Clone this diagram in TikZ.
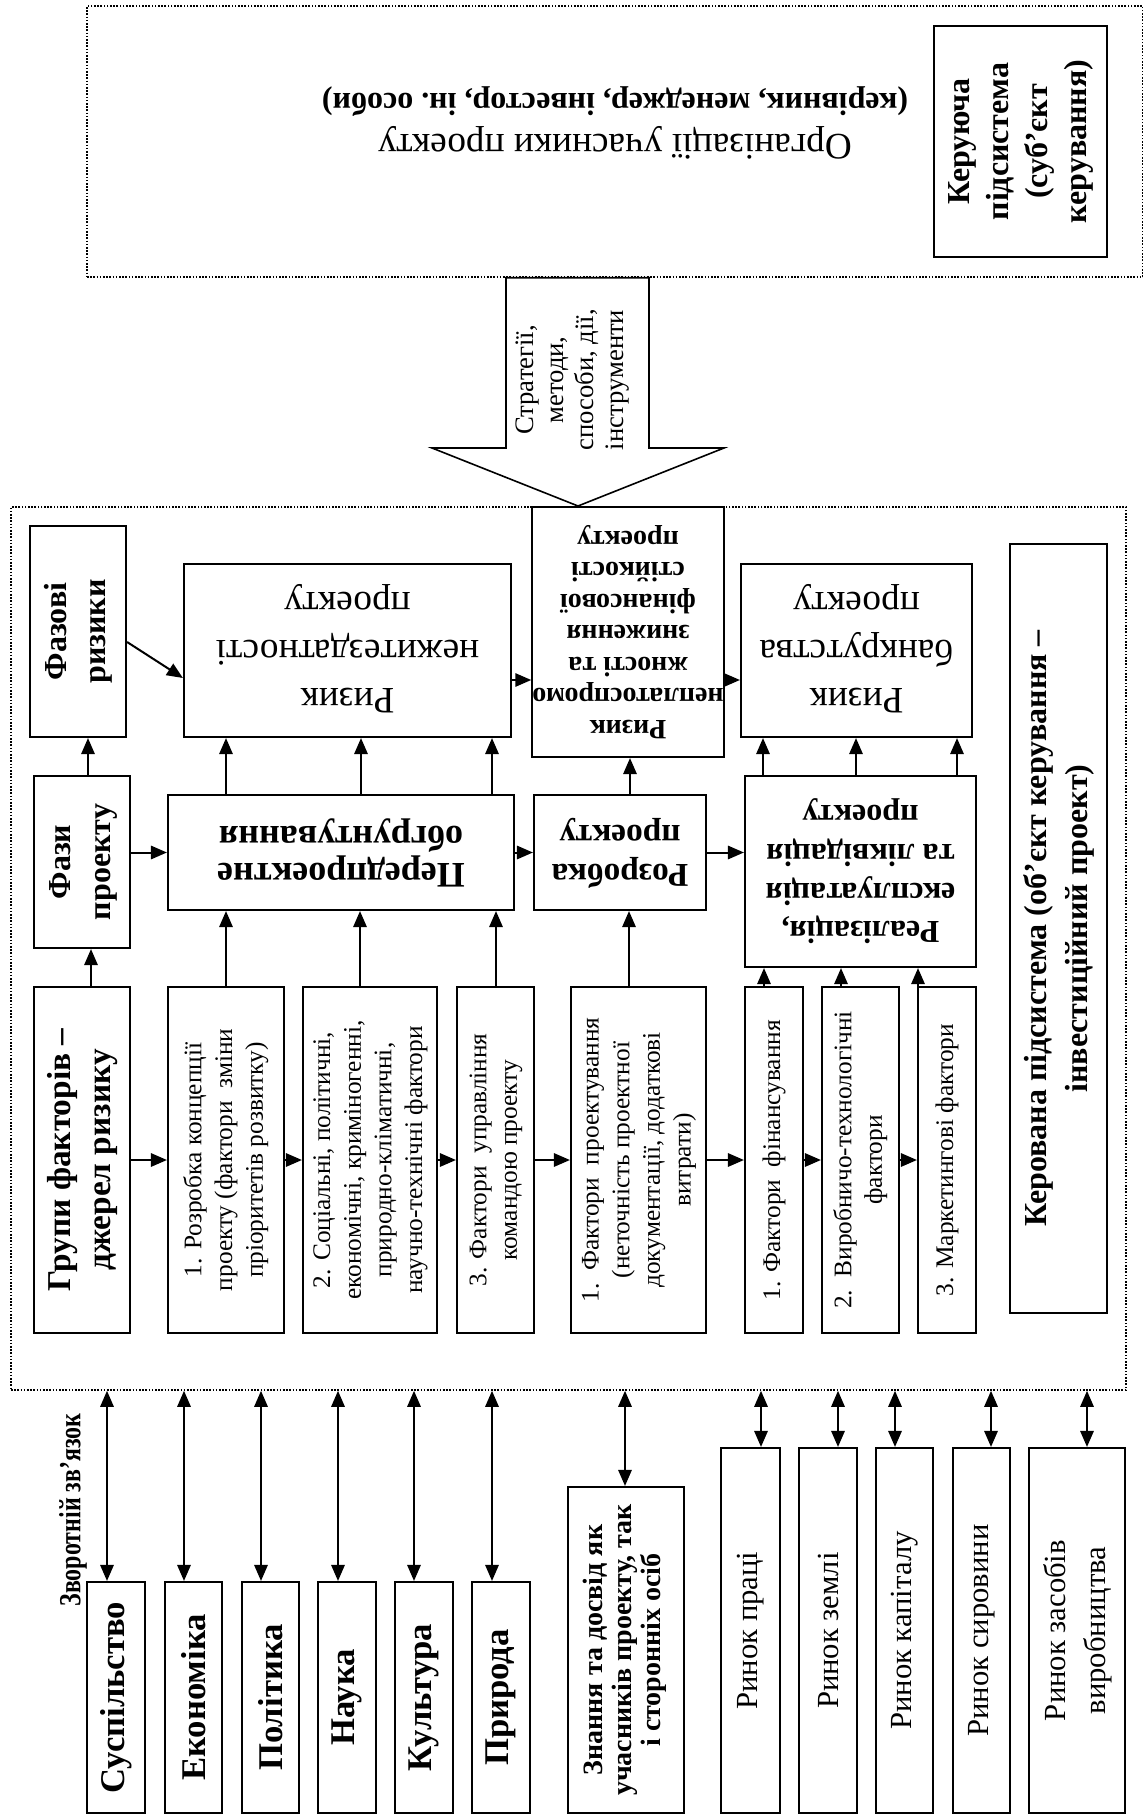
\documentclass[tikz,border=0pt]{standalone}
\usepackage{fontspec}
\setmainfont{Liberation Serif}
\usetikzlibrary{arrows.meta}
\newcommand\fsz[2]{\fontsize{#1}{#2}\selectfont}
\newcommand\rtxt[2]{\rotatebox{#1}{\begin{tabular}{@{}c@{}}#2\end{tabular}}}
\tikzset{
box/.style={draw,line width=0.8pt,inner sep=0pt},
sz/.style 2 args={minimum width=#1*0.375pt,minimum height=#2*0.375pt},
dotbox/.style={draw,line width=0.6pt,dash pattern=on 0.6pt off 0.6pt,inner sep=0pt},
arr/.style={line width=0.75pt,-{Triangle[length=6pt,width=5pt]}},
darr/.style={line width=0.75pt,{Triangle[length=6pt,width=5pt]}-{Triangle[length=6pt,width=5pt]}},
ftxt/.style={font=\fsz{9.5}{11.5}},
head/.style={font=\fsz{12}{14.5}\bfseries},
market/.style={font=\fsz{11.5}{15}},
area/.style={font=\fsz{13}{16}\bfseries}}

\begin{document}
\begin{tikzpicture}[x=0.375pt,y=-0.375pt]
\useasboundingbox (0,0) rectangle (1142,1818);

% upper subsystem
\node[dotbox,sz={1056}{271}] (ctl) at (615,141.5) {};
\node[box,sz={173}{231}] (ks) at (1020.5,141.5) {\fsz{12}{14.6}\bfseries\rtxt{90}{Керуюча\\підсистема\\(суб’єкт\\керування)}};
\node (org) at (615,122) {\fsz{14}{15.4}\rtxt{180}{Організації учасники проекту\\{\fsz{12}{15.4}\bfseries(керівник, менеджер, інвестор, ін.\ особи)}}};

% lower subsystem
\node[dotbox,sz={1115}{883}] (cs) at (568.5,948.5) {};
\draw[line width=0.6pt] (506,0 |- ctl.south) -- (506,448) -- (432,448) -- (578,506) -- (724,448) -- (649,448) -- (649,0 |- ctl.south) -- cycle;
\node[font=\fsz{10}{11.25}] (st) at (572,380) {\rtxt{90}{Стратегії,\\методи,\\способи, дії,\\інструменти}};

\node[box,head,sz={96}{211}] (fr) at (78,631.5) {\rtxt{90}{Фазові\\ризики}};
\node[box,sz={327}{173},font=\fsz{14}{18}] (rn) at (347.5,650.5) {\rtxt{180}{Ризик\\нежитездатності\\проекту}};
\node[box,sz={188}{250},font=\fsz{10.5}{11.8}\bfseries] (rp) at (628,632) {\rtxt{180}{Ризик\\неплатоспромо\\жності та\\зниження\\фінансової\\стійкості\\проекту}};
\node[box,sz={231}{173},font=\fsz{14}{18}] (rb) at (856.5,650.5) {\rtxt{180}{Ризик\\банкрутства\\проекту}};
\node[box,sz={96}{172},font=\fsz{12}{15}\bfseries] (fp) at (82,862) {\rtxt{90}{Фази\\проекту}};
\node[box,sz={346}{115},font=\fsz{13.5}{14.2}\bfseries] (pp) at (341,852.5) {\rtxt{180}{Передпроектне\\обгрунтування}};
\node[box,sz={172}{115},font=\fsz{12.5}{14.4}\bfseries] (rz) at (620,852.5) {\rtxt{180}{Розробка\\проекту}};
\node[box,head,sz={231}{191}] (rl) at (860.5,871.5) {\rtxt{180}{Реалізація,\\експлуатація\\та ліквідація\\проекту}};
\node[box,sz={97}{769},font=\fsz{12}{15.5}\bfseries] (kp) at (1058.5,928.5) {\rtxt{90}{Керована підсистема (об’єкт керування –\\інвестиційний проект)}};

\node[box,sz={96}{346},font=\fsz{12.5}{15}\bfseries] (gf) at (82,1160) {\rtxt{90}{Групи факторів –\\джерел ризику}};
\node[box,ftxt,sz={116}{346}] (f1) at (226,1160) {\rtxt{90}{1. Розробка концепції\\проекту (фактори~~зміни\\пріоритетів розвитку)}};
\node[box,ftxt,sz={134}{346}] (f2) at (370,1160) {\rtxt{90}{2. Соціальні, політичні,\\економічні, криміногенні,\\природно-кліматичні,\\научно-технічні фактори}};
\node[box,ftxt,sz={77}{346}] (f3) at (495.5,1160) {\rtxt{90}{3. Фактори~~управління\\командою проекту}};
\node[box,ftxt,sz={135}{346}] (f4) at (638.5,1160) {\rtxt{90}{1.~~Фактори~~проектування\\(неточність проектної\\документації, додаткові\\витрати)}};
\node[box,ftxt,sz={58}{346}] (f5) at (774,1160) {\rtxt{90}{1. Фактори~~фінансування}};
\node[box,ftxt,sz={77}{346}] (f6) at (860.5,1160) {\rtxt{90}{2.~~Виробничо-технологічні\\фактори}};
\node[box,ftxt,sz={58}{346}] (f7) at (947,1160) {\rtxt{90}{3. Маркетингові фактори}};

% environment
\node[font=\fsz{11.5}{13}\bfseries] (fb) at (73,1510) {\rotatebox{90}{\scalebox{0.78}[1]{Зворотній зв’язок}}};
\node[box,area,sz={58}{231}] (s1) at (116,1697.5) {\rotatebox{90}{Суспільство}};
\node[box,area,sz={57}{231}] (s2) at (193.5,1697.5) {\rotatebox{90}{Економіка}};
\node[box,area,sz={57}{231}] (s3) at (270.5,1697.5) {\rotatebox{90}{Політика}};
\node[box,area,sz={58}{231}] (s4) at (347,1697.5) {\rotatebox{90}{Наука}};
\node[box,area,sz={58}{231}] (s5) at (424,1697.5) {\rotatebox{90}{Культура}};
\node[box,area,sz={58}{231}] (s6) at (501,1697.5) {\rotatebox{90}{Природа}};
\node[box,sz={116}{326},font=\fsz{10.5}{10.8}\bfseries] (zn) at (626,1650) {\rtxt{90}{Знання та досвід як\\учасників проекту, так\\і сторонніх осіб}};
\node[box,market,sz={59}{365}] (m1) at (750.5,1630.5) {\rotatebox{90}{Ринок праці}};
\node[box,market,sz={58}{365}] (m2) at (828,1630.5) {\rotatebox{90}{Ринок землі}};
\node[box,market,sz={57}{365}] (m3) at (904.5,1630.5) {\rotatebox{90}{Ринок капіталу}};
\node[box,market,sz={57}{365}] (m4) at (981.5,1630.5) {\rotatebox{90}{Ринок сировини}};
\node[box,market,sz={96}{365}] (m5) at (1077,1630.5) {\rtxt{90}{Ринок засобів\\виробництва}};

% connectors
\draw[arr] (91,0 |- gf.north) -- (91,0 |- fp.south);
\draw[arr] (88,0 |- fp.north) -- (88,0 |- fr.south);
\draw[arr] (fp.east |- pp.west) -- (pp.west);
\draw[arr] (fr.east |- 0,642) -- (rn.west |- 0,678);
\draw[arr] (rn.east |- 0,680) -- (rp.west |- 0,680);
\draw[arr] (rp.east |- 0,680) -- (rb.west |- 0,680);
\draw[arr] (pp) -- (rz);
\draw[arr] (rz) -- (rz -| rl.west);
\draw[arr] (630,0 |- rz.north) -- (630,0 |- rp.south);
\draw[arr] (629,0 |- f4.north) -- (629,0 |- rz.south);
\foreach \x in {226,361,492} \draw[arr] (\x,0 |- pp.north) -- (\x,0 |- rn.south);
\foreach \x in {763,856,957} \draw[arr] (\x,0 |- rl.north) -- (\x,0 |- rb.south);
\foreach \x/\n in {226/f1,360/f2,496/f3} \draw[arr] (\x,0 |- \n.north) -- (\x,0 |- pp.south);
\foreach \x/\n in {764/f5,841/f6,918/f7} \draw[arr] (\x,0 |- \n.north) -- (\x,0 |- rl.south);
\foreach \a/\b in {gf/f1,f1/f2,f2/f3,f3/f4,f4/f5,f5/f6,f6/f7} \draw[arr] (\a) -- (\b);
\foreach \x/\n in {107/s1,184/s2,261/s3,338/s4,414/s5,492/s6,625/zn,761/m1,838/m2,895/m3,991/m4,1087/m5}
  \draw[darr] (\x,0 |- cs.south) -- (\x,0 |- \n.north);
\end{tikzpicture}
\end{document}
